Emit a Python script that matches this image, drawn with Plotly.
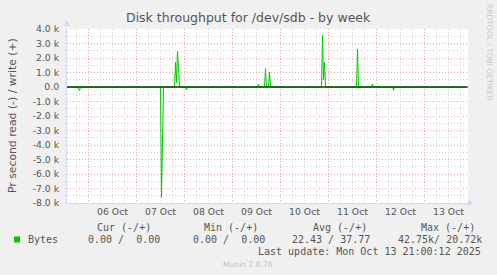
import pandas as pd
import plotly.graph_objects as go

# ---------------- data ----------------
start_time = "2025-10-05 13:30"
end_time = "2025-10-13 21:00"
step = "30min"

# write (+) spikes, bytes/s
write_times = ["2025-10-07 19:30", "2025-10-07 20:00", "2025-10-07 20:30", "2025-10-07 21:00",
               "2025-10-09 13:00", "2025-10-09 16:30", "2025-10-09 18:30",
               "2025-10-10 21:00", "2025-10-10 21:30", "2025-10-10 22:00",
               "2025-10-11 14:30", "2025-10-11 22:00"]
write_values = [1720, 300, 2480, 900,
                200, 1270, 1030,
                3570, 500, 1700,
                2600, 200]

# read (-) spikes, bytes/s (drawn negative)
read_times = ["2025-10-05 19:00", "2025-10-05 19:30", "2025-10-06 06:00", "2025-10-06 18:30",
              "2025-10-07 12:30", "2025-10-07 13:00", "2025-10-08 01:00",
              "2025-10-10 16:30", "2025-10-10 20:30", "2025-10-10 22:30",
              "2025-10-11 04:30", "2025-10-11 14:00", "2025-10-11 15:00",
              "2025-10-12 08:30", "2025-10-12 13:30", "2025-10-13 07:00"]
read_values = [120, 250, 30, 30,
               7620, 3500, 200,
               50, 60, 60,
               50, 60, 60,
               230, 50, 50]

y_tick_vals = [4000, 3000, 2000, 1000, 0, -1000, -2000, -3000, -4000, -5000, -6000, -7000, -8000]
y_tick_text = ["4.0 k", "3.0 k", "2.0 k", "1.0 k", "0.0", "-1.0 k", "-2.0 k", "-3.0 k",
               "-4.0 k", "-5.0 k", "-6.0 k", "-7.0 k", "-8.0 k"]

legend_headers = ["Cur (-/+)", "Min (-/+)", "Avg (-/+)", "Max (-/+)"]
legend_values = ["0.00 /  0.00", "0.00 /  0.00", "22.43 / 37.77", "42.75k/ 20.72k"]
series_name = "Bytes"
last_update = "Last update: Mon Oct 13 21:00:12 2025"

# ---------------- build series ----------------
idx = pd.date_range(start_time, end_time, freq=step)
write_s = pd.Series(0.0, index=idx)
read_s = pd.Series(0.0, index=idx)
for t, v in zip(write_times, write_values):
    write_s[pd.Timestamp(t)] = v
for t, v in zip(read_times, read_values):
    read_s[pd.Timestamp(t)] = v

# ---------------- layout geometry ----------------
W, H = 497, 275
L, R, T, B = 67, 468, 29, 203
PW, PH = R - L, B - T

def px(x):
    return (x - L) / PW

def py(y):
    return (B - y) / PH

GREEN = "#00CC00"
FONT = "#555555"
AXIS = "#CFD6F8"

fig = go.Figure()
fig.add_trace(go.Scatter(x=idx, y=write_s.values, mode="lines",
                         line=dict(color=GREEN, width=1), hoverinfo="skip", showlegend=False))
fig.add_trace(go.Scatter(x=idx, y=-read_s.values, mode="lines",
                         line=dict(color=GREEN, width=1), hoverinfo="skip", showlegend=False))

fig.update_layout(
    width=W, height=H,
    margin=dict(l=L, r=W - R, t=T, b=H - B, pad=0),
    paper_bgcolor="#F0F0F0", plot_bgcolor="#FFFFFF",
    showlegend=False,
    font=dict(family="DejaVu Sans", size=9.3, color=FONT),
)

fig.update_xaxes(
    type="date",
    range=["2025-10-05 13:15", "2025-10-13 21:45"],
    tick0="2025-10-06", dtick=86400000,
    tickformat="%d %b", ticklabelmode="period",
    showgrid=True, gridcolor="rgba(240,150,150,0.85)", griddash="1px,2px", gridwidth=1,
    minor=dict(dtick=6 * 3600 * 1000, showgrid=True, gridcolor="#D4D4D4", griddash="1px,2px"),
    showline=True, linecolor=AXIS, linewidth=1,
    ticks="", zeroline=False,
    tickfont=dict(family="DejaVu Sans", size=9.3, color=FONT),
)
fig.update_yaxes(
    range=[-8000, 4000],
    tickvals=y_tick_vals, ticktext=y_tick_text,
    showgrid=True, gridcolor="rgba(240,150,150,0.85)", griddash="1px,2px", gridwidth=1,
    minor=dict(dtick=500, showgrid=True, gridcolor="#D4D4D4", griddash="1px,2px"),
    showline=True, linecolor=AXIS, linewidth=1,
    zeroline=False,
    ticks="outside", ticklen=5, tickcolor="rgba(0,0,0,0)",
    tickfont=dict(family="DejaVu Sans", size=9.3, color=FONT),
)

shapes = []
# black zero rule drawn over the data (as munin does)
shapes.append(dict(type="line", xref="paper", yref="y", x0=0, x1=1, y0=0, y1=0,
                   layer="above", line=dict(color="#000000", width=1)))
# axis arrows
shapes.append(dict(type="path", xref="paper", yref="paper",
                   path=f"M {px(64)} {py(26)} L {px(67)} {py(20.5)} L {px(70)} {py(26)} Z",
                   fillcolor=AXIS, line=dict(color=AXIS, width=0)))
shapes.append(dict(type="path", xref="paper", yref="paper",
                   path=f"M {px(468)} {py(200)} L {px(473.5)} {py(203)} L {px(468)} {py(206)} Z",
                   fillcolor=AXIS, line=dict(color=AXIS, width=0)))
# legend swatch
shapes.append(dict(type="rect", xref="paper", yref="paper",
                   x0=px(14), x1=px(20), y0=py(242.5), y1=py(236.5),
                   fillcolor=GREEN, line=dict(width=0)))
fig.update_layout(shapes=shapes)

ann = []
def add(text, x, y, xa="left", size=10, family="DejaVu Sans Mono", color=FONT, angle=0):
    ann.append(dict(text=text, x=px(x), y=py(y), xref="paper", yref="paper",
                    xanchor=xa, yanchor="middle", showarrow=False, textangle=angle,
                    font=dict(family=family, size=size, color=color), borderpad=0))

add("Disk throughput for /dev/sdb - by week", 248.5, 18, xa="center", size=12.5, family="DejaVu Sans")
add("Pr second read (-) / write (+)", 12, 116, xa="center", size=10.8, family="DejaVu Sans", angle=-90)
add("RRDTOOL / TOBI OETIKER", 490, 53, xa="center", size=7.5, family="DejaVu Sans", color="#C8C8C8", angle=90)

header_right = [151.7, 259.3, 367.7, 475.7]
value_right = [161, 266, 371, 482.7]
for h, xr in zip(legend_headers, header_right):
    add(h.replace("  ", "\u00a0\u00a0"), xr, 227.7, xa="right")
add(series_name, 26.7, 239.3, xa="left")
for v, xr in zip(legend_values, value_right):
    add(v.replace(" ", "\u00a0"), xr, 239.3, xa="right")
add(last_update.replace(" ", "\u00a0"), 482.3, 251, xa="right")
add("Munin 2.0.76", 248, 264.3, xa="center", size=7.6, family="DejaVu Sans", color="#C0C0C0")

fig.update_layout(annotations=ann)

fig.write_html("out.html")
